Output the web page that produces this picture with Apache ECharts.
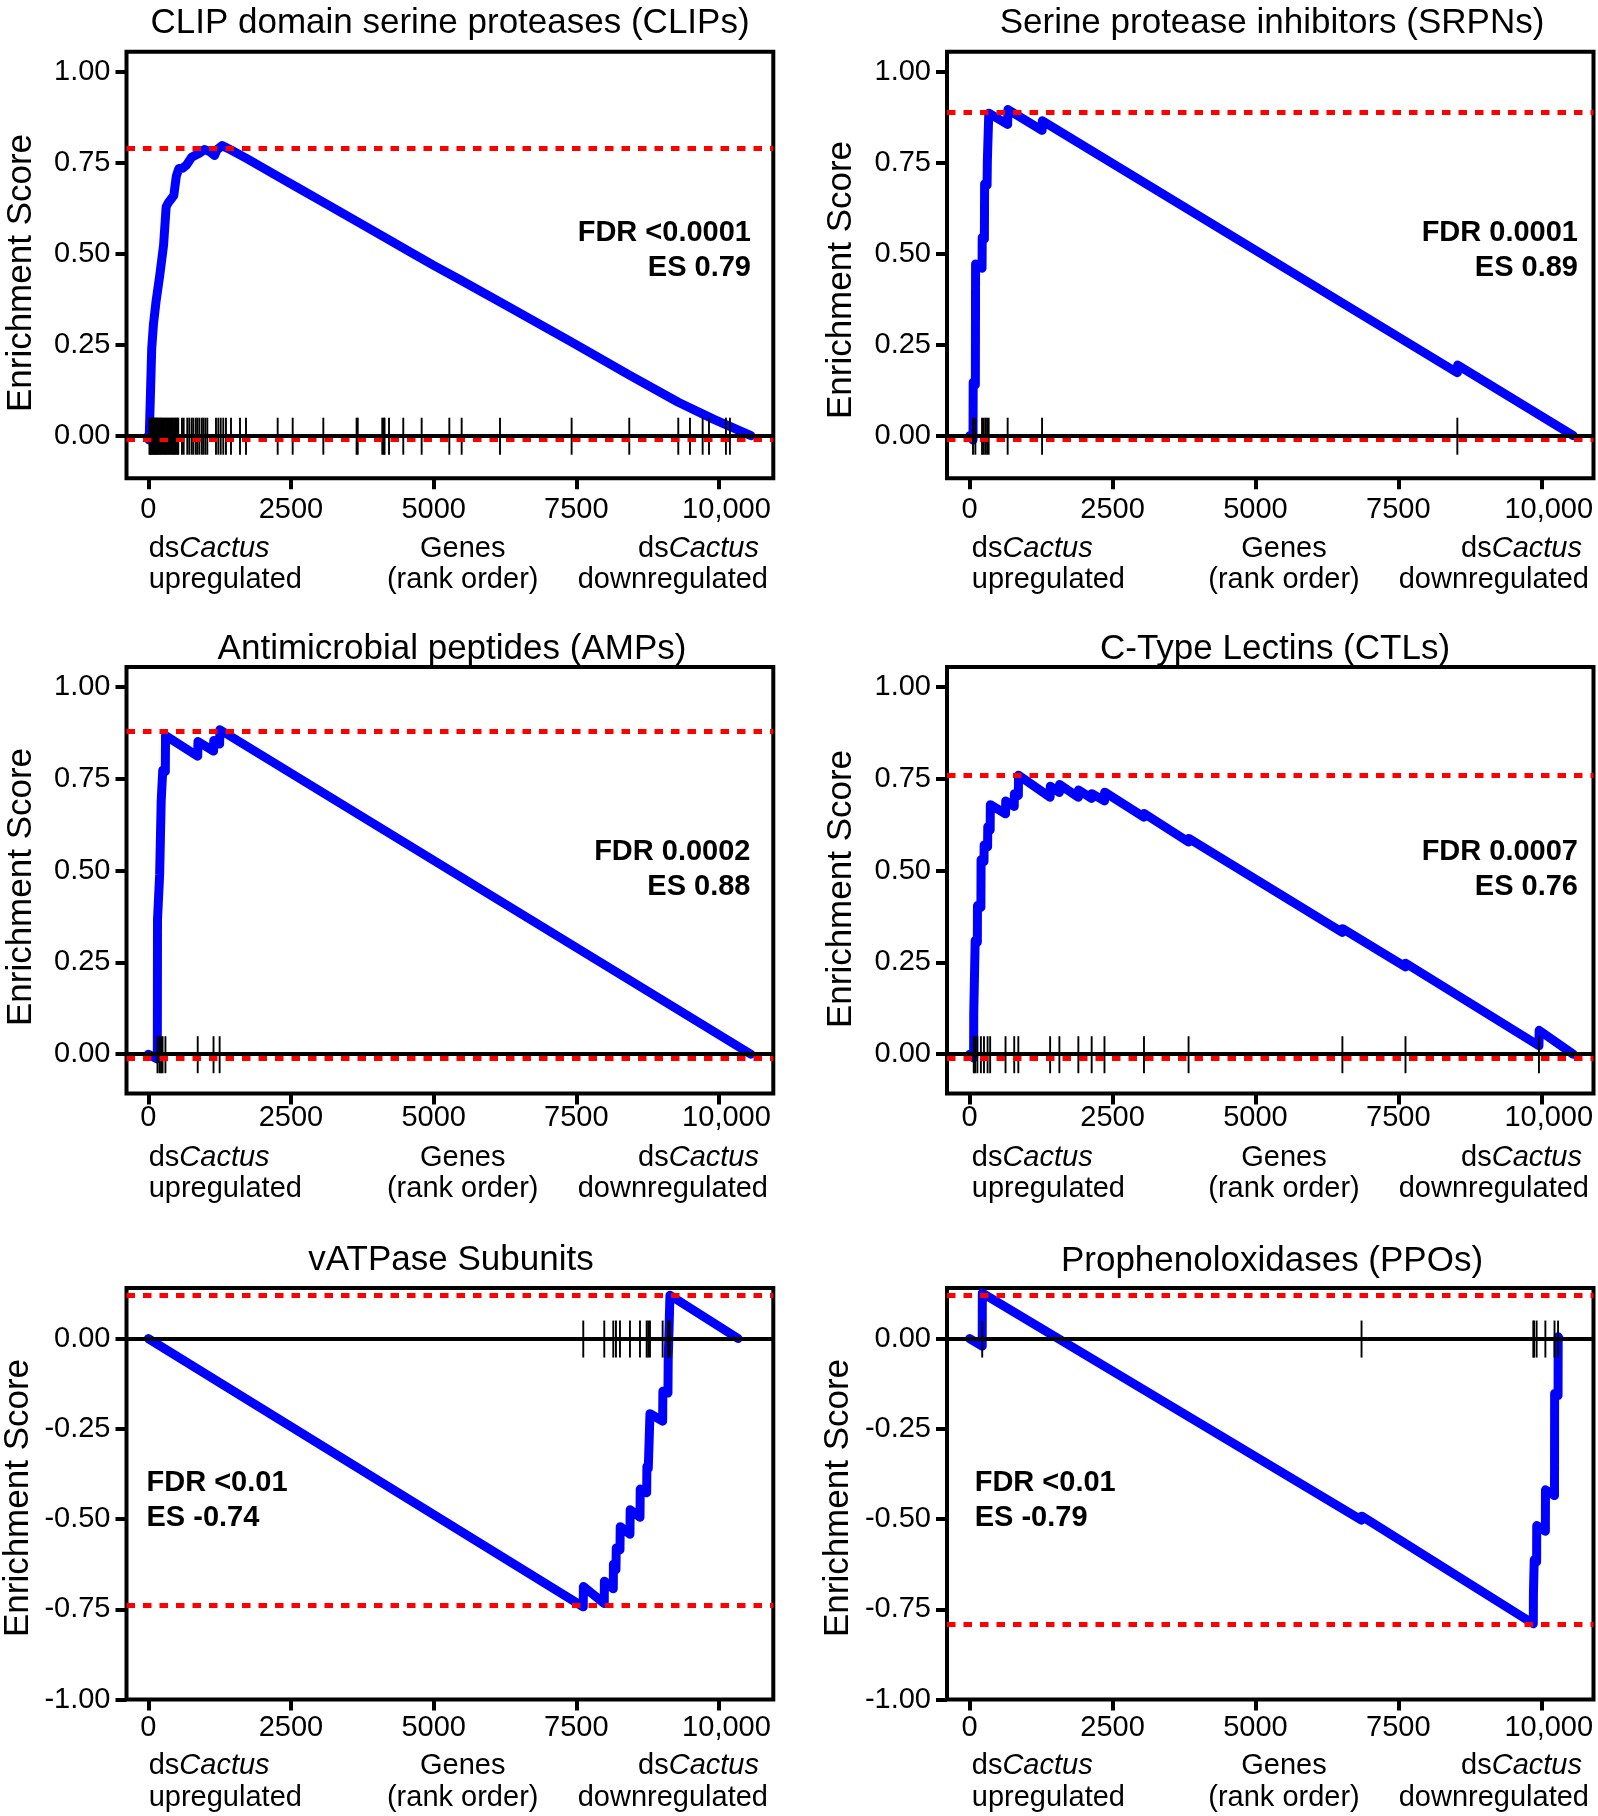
<!DOCTYPE html>
<html><head><meta charset="utf-8">
<script src="https://cdn.jsdelivr.net/npm/echarts@6/dist/echarts.min.js"></script>
<style>html,body{margin:0;padding:0;background:#fff}#c{width:1598px;height:1816px}</style>
</head><body><div id="c"></div>
<script>
// ================= DATA =================
const xTickValues = [0, 2500, 5000, 7500, 10000];
const xTickLabels = ['0', '2500', '5000', '7500', '10,000'];
const yTicksUp = [0, 0.25, 0.5, 0.75, 1];
const yTicksDown = [-1, -0.75, -0.5, -0.25, 0];

const titles = ['CLIP domain serine proteases (CLIPs)', 'Serine protease inhibitors (SRPNs)',
  'Antimicrobial peptides (AMPs)', 'C-Type Lectins (CTLs)', 'vATPase Subunits', 'Prophenoloxidases (PPOs)'];
const fdrLabels = ['FDR <0.0001', 'FDR 0.0001', 'FDR 0.0002', 'FDR 0.0007', 'FDR <0.01', 'FDR <0.01'];
const esLabels = ['ES 0.79', 'ES 0.89', 'ES 0.88', 'ES 0.76', 'ES -0.74', 'ES -0.79'];
const yAxisTitle = 'Enrichment Score';
const xLeftLabel = ['ds', 'Cactus', 'upregulated'];
const xMidLabel = ['Genes', '(rank order)'];
const xRightLabel = ['ds', 'Cactus', 'downregulated'];

// CLIPs
const clipsHits = [20, 35, 48, 60, 75, 90, 105, 120, 135, 150, 165, 180, 200, 215, 230, 250, 270, 290, 310, 330,
  350, 370, 390, 410, 430, 450, 470, 490, 510, 525, 590, 620, 683, 718, 760, 789, 831, 859, 894, 936, 964, 999, 1034,
  1186, 1227, 1269, 1314, 1361, 1449, 1607, 1712, 2267, 2530, 3067, 3650, 3670, 4100, 4125, 4140, 4218, 4468, 4790,
  5275, 5491, 6163, 7418, 8428, 9287, 9492, 9714, 9825, 10122, 10192];
const clipsRank = [0, 15, 60, 89, 134, 200, 268, 313, 350, 447, 491, 536, 600, 670, 759, 893, 982, 1072, 1161, 1206,
  1295, 1450, 1720, 2277, 2590, 3125, 3661, 4197, 4554, 5000, 5447, 6340, 7412, 8439, 9287, 9912, 10200, 10560];
const clipsES = [0, -0.012, 0.24, 0.304, 0.367, 0.44, 0.524, 0.629, 0.64, 0.66, 0.713, 0.734, 0.735, 0.744, 0.765,
  0.776, 0.786, 0.781, 0.770, 0.786, 0.797, 0.785, 0.762, 0.712, 0.684, 0.636, 0.588, 0.540, 0.508, 0.468, 0.430,
  0.352, 0.258, 0.166, 0.092, 0.045, 0.025, 0];
const clipsRefLines = [0.794, -0.0127];

// SRPNs
const srpnHits = [59, 100, 217, 245, 275, 305, 333, 665, 1267, 8532];
const srpnRank = [0, 59, 62, 100, 104, 217, 220, 258, 262, 305, 310, 330, 335, 665, 670, 1267, 1272, 8532, 8537, 10560];
const srpnES = [0, -0.012, 0.147, 0.14, 0.472, 0.46, 0.545, 0.54, 0.692, 0.688, 0.755, 0.752, 0.886, 0.855, 0.896,
  0.839, 0.865, 0.173, 0.194, 0];
const srpnRefLines = [0.89, -0.013];

// AMPs
const ampHits = [161, 196, 223, 250, 300, 866, 1143, 1250];
const ampRank = [0, 158, 161, 196, 199, 223, 226, 250, 253, 298, 302, 866, 870, 1143, 1147, 1250, 1254, 10560];
const ampES = [0, -0.013, 0.365, 0.36, 0.49, 0.487, 0.69, 0.687, 0.774, 0.77, 0.868, 0.812, 0.852, 0.826, 0.855,
  0.845, 0.884, 0];
const ampRefLines = [0.88, -0.013];

// CTLs
const ctlHits = [72, 95, 135, 197, 251, 314, 359, 628, 780, 852, 1408, 1570, 1902, 2135, 2359, 3050, 3830, 6521,
  7625, 9960];
const ctlRank = [0, 70, 72, 95, 97, 135, 137, 197, 200, 251, 254, 314, 317, 359, 362, 628, 631, 780, 783, 852, 855,
  1408, 1411, 1570, 1573, 1902, 1905, 2135, 2138, 2359, 2362, 3050, 3053, 3830, 3833, 6521, 6524, 7625, 7628, 9960,
  9963, 10560];
const ctlES = [0, -0.01, 0.11, 0.105, 0.31, 0.305, 0.405, 0.40, 0.53, 0.525, 0.57, 0.565, 0.62, 0.61, 0.68, 0.655,
  0.69, 0.675, 0.71, 0.705, 0.76, 0.70, 0.73, 0.713, 0.735, 0.70, 0.72, 0.697, 0.71, 0.69, 0.714, 0.646, 0.656,
  0.578, 0.588, 0.332, 0.342, 0.238, 0.248, 0.023, 0.065, 0];
const ctlRefLines = [0.756, -0.01];

// vATPase
const vatpHits = [7622, 7990, 8148, 8195, 8265, 8440, 8616, 8733, 8761, 8791, 9013, 9106, 9124, 9141];
const vatpRank = [0, 7622, 7624, 7990, 7992, 8148, 8150, 8195, 8200, 8265, 8270, 8440, 8444, 8616, 8620, 8733, 8737,
  8761, 8791, 9013, 9017, 9106, 9110, 9141, 10335];
const vatpES = [0, -0.743, -0.687, -0.734, -0.672, -0.693, -0.625, -0.641, -0.58, -0.585, -0.521, -0.542, -0.474,
  -0.495, -0.417, -0.427, -0.354, -0.36, -0.208, -0.229, -0.146, -0.151, -0.0625, 0.12, 0];
const vatpRefLines = [0.117, -0.737];

// PPOs
const ppoHits = [220, 6856, 9861, 9875, 9919, 10072, 10232, 10294];
const ppoRank = [0, 220, 222, 6856, 6859, 9861, 9863, 9875, 9877, 9919, 9921, 10072, 10074, 10232, 10234,
  10294, 10296, 10314];
const ppoES = [0, -0.021, 0.126, -0.503, -0.492, -0.79, -0.707, -0.708, -0.613, -0.618, -0.518, -0.534, -0.419,
  -0.435, -0.152, -0.158, 0.005, 0];
const ppoRefLines = [0.1225, -0.79];

// ================= LAYOUT / STYLE =================
const FONT = "'Liberation Sans', Arial, Helvetica, sans-serif";
const colL = {left: 126.5, width: 646.8};
const colR = {left: 947, width: 646.5};
const rows = [{top: 51.7, height: 426.6}, {top: 667, height: 426.5}, {top: 1288, height: 411.6}];
const xrL = [-382, 10952], xrR = [-396, 10914];

const panels = [
  {hits: clipsHits, rank: clipsRank, es: clipsES, ref: clipsRefLines, col: colL, row: rows[0], xr: xrL, yr: [-0.117, 1.055], yt: yTicksUp, xm: 17,
   title: [450, 23.5], yname: [21.5, 273], sub: {x: [148.7, 462.7, 759, 768], y: [549, 580]}, stat: {x: 751, y: [233, 268], align: 'right'}},
  {hits: srpnHits, rank: srpnRank, es: srpnES, ref: srpnRefLines, col: colR, row: rows[0], xr: xrR, yr: [-0.117, 1.055], yt: yTicksUp, xm: 17,
   title: [1272, 23.5], yname: [841, 280], sub: {x: [971.8, 1284, 1582, 1589], y: [549, 580]}, stat: {x: 1578, y: [233, 268], align: 'right'}},
  {hits: ampHits, rank: ampRank, es: ampES, ref: ampRefLines, col: colL, row: rows[1], xr: xrL, yr: [-0.107, 1.055], yt: yTicksUp, xm: 10,
   title: [452, 649.5], yname: [21.5, 887], sub: {x: [148.7, 462.7, 759, 768], y: [1158, 1189]}, stat: {x: 750.5, y: [852, 886.5], align: 'right'}},
  {hits: ctlHits, rank: ctlRank, es: ctlES, ref: ctlRefLines, col: colR, row: rows[1], xr: xrR, yr: [-0.107, 1.055], yt: yTicksUp, xm: 10,
   title: [1275, 649.5], yname: [841, 889], sub: {x: [971.8, 1284, 1582, 1589], y: [1158, 1189]}, stat: {x: 1578, y: [852, 887], align: 'right'}},
  {hits: vatpHits, rank: vatpRank, es: vatpES, ref: vatpRefLines, col: colL, row: rows[2], xr: xrL, yr: [-1.0, 0.14], yt: yTicksDown, xm: 14,
   title: [451, 1260.5], yname: [18.5, 1498], sub: {x: [148.7, 462.7, 759, 768], y: [1766, 1798]}, stat: {x: 146.5, y: [1482.6, 1517.8], align: 'left'}},
  {hits: ppoHits, rank: ppoRank, es: ppoES, ref: ppoRefLines, col: colR, row: rows[2], xr: xrR, yr: [-1.0, 0.14], yt: yTicksDown, xm: 14,
   title: [1272, 1261.5], yname: [838.5, 1498], sub: {x: [971.8, 1284, 1582, 1589], y: [1766, 1798]}, stat: {x: 974.7, y: [1482.6, 1517.8], align: 'left'}}
];

const grids = [], xAxes = [], yAxes = [], series = [], graphics = [];

function txt(x, y, text, opts) {
  const s = Object.assign({text: text, fill: '#000', fontSize: 29, fontFamily: FONT,
    textAlign: 'center', textVerticalAlign: 'middle', align: 'center', verticalAlign: 'middle'}, opts || {});
  if (opts && opts.textAlign) s.align = opts.textAlign;
  return {type: 'text', x: x, y: y, style: s, silent: true, z: 10};
}
function richCactus(x, y, words, align) {
  const base = {fontSize: 29, fontFamily: FONT, fill: '#000'};
  return {type: 'text', x: x, y: y, silent: true, z: 10,
    style: {text: '{a|' + words[0] + '}{b|' + words[1] + '}', rich: {a: base, b: Object.assign({}, base, {fontStyle: 'italic'})},
      fill: '#000', fontSize: 29, fontFamily: FONT, textAlign: align, align: align, textVerticalAlign: 'middle', verticalAlign: 'middle'}};
}

panels.forEach((p, i) => {
  grids.push({left: p.col.left, top: p.row.top, width: p.col.width, height: p.row.height,
    show: true, borderColor: '#000', borderWidth: 4, backgroundColor: 'transparent', containLabel: false});
  xAxes.push({type: 'value', gridIndex: i, min: p.xr[0], max: p.xr[1], position: 'bottom',
    axisLine: {show: false, onZero: false}, splitLine: {show: false},
    axisTick: {show: true, inside: false, customValues: xTickValues, length: 11, lineStyle: {color: '#000', width: 4}},
    axisLabel: {show: true, customValues: xTickValues, margin: p.xm, fontSize: 29, color: '#000', fontFamily: FONT,
      formatter: v => (v === 10000 ? '{o|' : '{n|') + xTickLabels[xTickValues.indexOf(v)] + '}',
      rich: {n: {fontSize: 29, fontFamily: FONT, color: '#000'},
             o: {fontSize: 29, fontFamily: FONT, color: '#000', padding: [0, 0, 0, 15]}}}});
  yAxes.push({type: 'value', gridIndex: i, min: p.yr[0], max: p.yr[1], position: 'left',
    axisLine: {show: false, onZero: false}, splitLine: {show: false},
    axisTick: {show: true, inside: false, customValues: p.yt, length: 11, lineStyle: {color: '#000', width: 4}},
    axisLabel: {show: true, customValues: p.yt, margin: 16, fontSize: 29, color: '#000', fontFamily: FONT,
      formatter: v => v.toFixed(2)}});
  // reference lines (red dashed + black zero)
  series.push({type: 'line', xAxisIndex: i, yAxisIndex: i, data: [], silent: true, z: 1,
    markLine: {silent: true, symbol: ['none', 'none'], label: {show: false}, animation: false,
      data: [
        {yAxis: p.ref[0], lineStyle: {color: '#ff0000', width: 5, type: [8.5, 8]}},
        {yAxis: p.ref[1], lineStyle: {color: '#ff0000', width: 5, type: [8.5, 8]}},
        {yAxis: 0, lineStyle: {color: '#000', width: 4, type: 'solid'}}
      ]}});
  // running enrichment score
  series.push({type: 'line', xAxisIndex: i, yAxisIndex: i, z: 3, silent: true, animation: false,
    data: p.rank.map((r, k) => [r, p.es[k]]), symbol: 'none',
    lineStyle: {color: '#0000ff', width: 9, join: 'round', cap: 'round'}});
  // hit rug
  series.push({type: 'custom', xAxisIndex: i, yAxisIndex: i, z: 4, silent: true, animation: false,
    data: p.hits.map(h => [h, 0]), encode: {x: 0, y: 1},
    renderItem: (params, api) => {
      const c = api.coord([api.value(0), 0]);
      return {type: 'line', shape: {x1: c[0], y1: c[1] - 18, x2: c[0], y2: c[1] + 19},
        style: {stroke: '#000', lineWidth: 1.9}};
    }});
  // texts
  graphics.push(txt(p.title[0], p.title[1], titles[i], {fontSize: 35}));
  const yn = txt(p.yname[0], p.yname[1], yAxisTitle, {fontSize: 35});
  yn.rotation = Math.PI / 2;
  graphics.push(yn);
  graphics.push(richCactus(p.sub.x[0], p.sub.y[0], xLeftLabel, 'left'));
  graphics.push(txt(p.sub.x[0], p.sub.y[1], xLeftLabel[2], {textAlign: 'left'}));
  graphics.push(txt(p.sub.x[1], p.sub.y[0], xMidLabel[0]));
  graphics.push(txt(p.sub.x[1], p.sub.y[1], xMidLabel[1]));
  graphics.push(richCactus(p.sub.x[2], p.sub.y[0], xRightLabel, 'right'));
  graphics.push(txt(p.sub.x[3], p.sub.y[1], xRightLabel[2], {textAlign: 'right'}));
  graphics.push(txt(p.stat.x, p.stat.y[0], fdrLabels[i], {fontWeight: 'bold', textAlign: p.stat.align}));
  graphics.push(txt(p.stat.x, p.stat.y[1], esLabels[i], {fontWeight: 'bold', textAlign: p.stat.align}));
});

const chart = echarts.init(document.getElementById('c'), null, {renderer: 'canvas', width: 1598, height: 1816});
chart.setOption({
  backgroundColor: '#fff', animation: false,
  grid: grids, xAxis: xAxes, yAxis: yAxes, series: series, graphic: {elements: graphics}
});
</script></body></html>
